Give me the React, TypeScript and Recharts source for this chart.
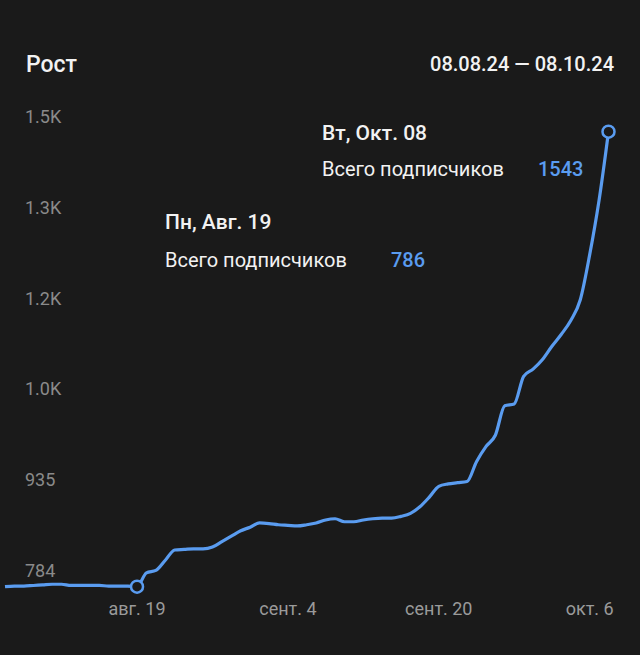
import { LineChart, Line, XAxis, YAxis, ReferenceDot } from "recharts";

const BG = "#1a1a1a";
const BLUE = "#5a9cf0";

// daily subscriber totals, starting Aug 5
const subscribers = [
  786, 787, 787, 788, 789, 790, 790, 788, 788, 788, 788, 787, 787, 787, 786,
  809, 813, 830, 847, 848, 849, 849, 852, 861, 870, 879, 885, 892, 891, 889,
  888, 887, 889, 892, 897, 899, 894, 894, 897, 899, 900, 900, 903, 908, 919,
  935, 953, 957, 959, 961, 994, 1019, 1038, 1087, 1090, 1136, 1148, 1164, 1186,
  1206, 1229, 1263, 1338, 1429, 1543,
];

const xTicks = [14, 30, 46, 62];
const xTickLabels = ["авг. 19", "сент. 4", "сент. 20", "окт. 6"];
const yTicks = [784, 935, 1086, 1237, 1388, 1539];

const highlights = [
  { day: 14, label: "Пн, Авг. 19" },
  { day: 64, label: "Вт, Окт. 08" },
];

const data = subscribers.map((value, day) => ({ day, value }));

const fmtY = (v: number) =>
  v < 1000 ? String(v) : (Math.floor(v / 100) / 10).toFixed(1) + "K";

const XTick = (props: any) => {
  const i = xTicks.indexOf(props.payload.value);
  return (
    <text x={props.x} y={615} textAnchor="middle" fill="#9a9a9a" fontSize={18}>
      {xTickLabels[i]}
    </text>
  );
};

const YTick = (props: any) => (
  <text x={25} y={props.y - 11} fill="#8a8a8a" fontSize={18}>
    {fmtY(props.payload.value)}
  </text>
);

const textFont = "Roboto, 'Noto Sans', sans-serif";

export default function App() {
  const [h1, h2] = highlights;
  return (
    <div style={{ position: "relative", width: 640, height: 655, background: BG, fontFamily: textFont }}>
      <style>{`body{margin:0;background:${BG}}`}</style>
      <LineChart
        width={640}
        height={655}
        data={data}
        margin={{ top: 121.5, right: 31.5, bottom: 22.7, left: 4 }}
      >
        <XAxis
          type="number"
          dataKey="day"
          domain={[0, 64]}
          ticks={xTicks}
          height={30}
          axisLine={false}
          tickLine={false}
          tick={<XTick />}
        />
        <YAxis
          type="number"
          domain={[760, 1560]}
          ticks={yTicks}
          width={1}
          axisLine={false}
          tickLine={false}
          interval={0}
          tick={<YTick />}
        />
        <Line
          type="monotone"
          dataKey="value"
          stroke={BLUE}
          strokeWidth={3.2}
          dot={false}
          isAnimationActive={false}
        />
        {highlights.map((h) => (
          <ReferenceDot
            key={h.day}
            x={h.day}
            y={subscribers[h.day]}
            r={6}
            fill={BG}
            stroke={BLUE}
            strokeWidth={2.5}
          />
        ))}
      </LineChart>
      <svg
        width={640}
        height={655}
        style={{ position: "absolute", left: 0, top: 0, pointerEvents: "none" }}
        fontFamily={textFont}
      >
        <text x={26} y={72} fill="#f2f2f2" fontSize={23} fontWeight={500}>Рост</text>
        <text x={614} y={71} fill="#f2f2f2" fontSize={20} fontWeight={500} textAnchor="end">
          08.08.24 — 08.10.24
        </text>

        <text x={165} y={229} fill="#f2f2f2" fontSize={21} fontWeight={500}>{h1.label}</text>
        <text x={165} y={267} fill="#f2f2f2" fontSize={20}>Всего подписчиков</text>
        <text x={391} y={267} fill={BLUE} fontSize={20} fontWeight={500}>{subscribers[h1.day]}</text>

        <text x={322} y={140} fill="#f2f2f2" fontSize={21} fontWeight={500}>{h2.label}</text>
        <text x={322} y={176} fill="#f2f2f2" fontSize={20}>Всего подписчиков</text>
        <text x={538} y={176} fill={BLUE} fontSize={20} fontWeight={500}>{subscribers[h2.day]}</text>
      </svg>
    </div>
  );
}
